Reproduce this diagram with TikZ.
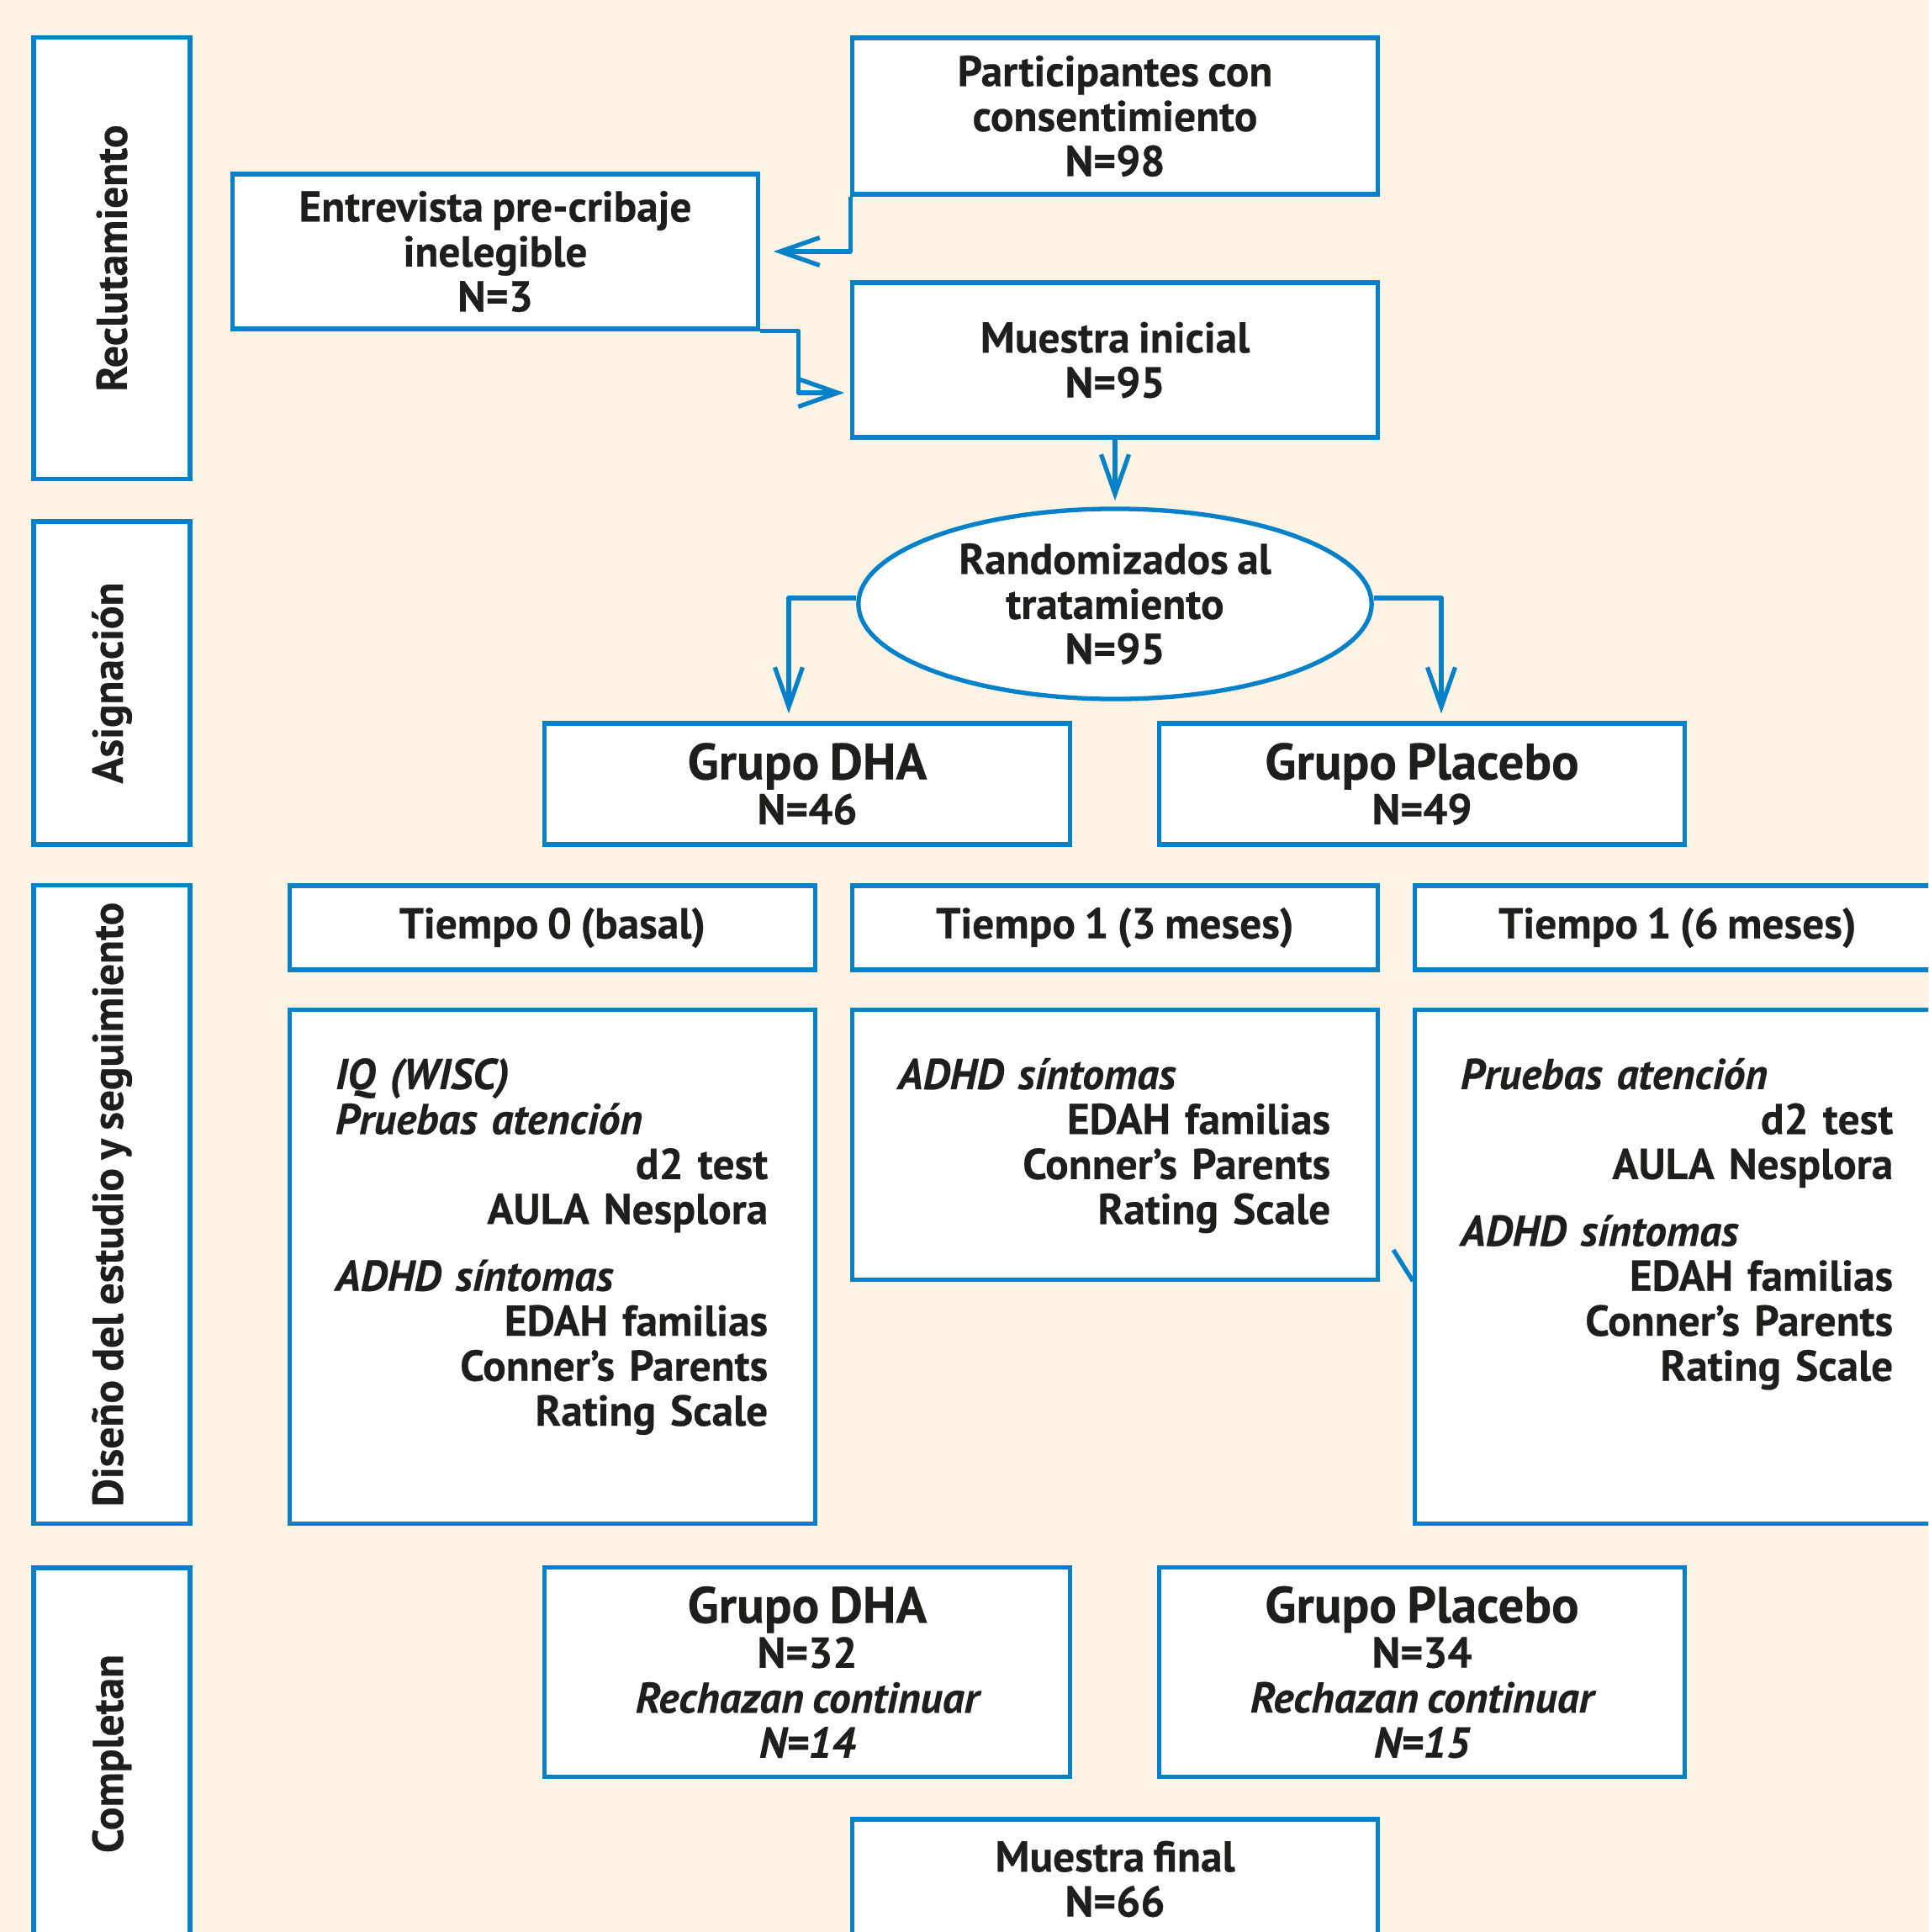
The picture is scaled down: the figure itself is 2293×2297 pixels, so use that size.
\documentclass[tikz,border=0pt]{standalone}
\usepackage{fontspec}
\usepackage{graphicx}
\setmainfont[WordSpace=0.8, FakeBold=0.4]{PT Sans}
\usetikzlibrary{shapes.geometric,arrows.meta}

\definecolor{crema}{HTML}{FDF3E4}
\definecolor{azul}{HTML}{0581C9}
\definecolor{tinta}{HTML}{1E1E1C}

\newcommand{\der}[1]{\mbox{}\hfill #1}
\newcommand{\grande}{\fontsize{17.3}{16}\selectfont}

\tikzset{
	caja/.style={draw=azul, line width=1.5pt, fill=white, inner sep=0pt, align=center, text=tinta,
		font=\bfseries\fontsize{14.6}{15.2}\selectfont, minimum width=6.24cm},
	etapa/.style={caja, minimum width=1.86cm},
	lista/.style={inner sep=0pt, text width=5.14cm, align=left, anchor=north west, text=tinta,
		font=\bfseries\fontsize{14.6}{15.2}\selectfont},
	flecha/.style={draw=azul, line width=1.5pt, line join=round,
		-{Straight Barb[length=4.7mm, width=3.3mm]}},
	linea/.style={draw=azul, line width=1.5pt}
}

\begin{document}
\begin{tikzpicture}[x=0.01cm, y=-0.01cm]
	\clip (0,0) rectangle (2293,2297);
	\fill[crema] (0,0) rectangle (2293,2297);

	% etapas
	\node[etapa, minimum height=5.24cm] (etq-recl) at (133,307) {\rotatebox{90}{Reclutamiento}};
	\node[etapa, minimum height=3.84cm] (etq-asig) at (133,812) {\rotatebox{90}{Asignación}};
	\node[etapa, minimum height=7.59cm] (etq-dise) at (133,1432) {\rotatebox{90}{Diseño del estudio y seguimiento}};
	\node[etapa, minimum height=4.42cm] (etq-comp) at (133,2085) {\rotatebox{90}{Completan}};

	% reclutamiento y asignacion
	\node[caja, minimum height=1.86cm] (part) at (1326,138) {Participantes con\\consentimiento\\N=98};
	\node[caja, minimum height=1.84cm] (entr) at (589,299) {Entrevista pre-cribaje\\inelegible\\N=3};
	\node[caja, minimum height=1.84cm] (muestra-ini) at (1326,428) {Muestra inicial\\N=95};
	\node[caja, ellipse, minimum width=6.10cm, minimum height=2.26cm] (rand) at (1326,718)
		{Randomizados al\\tratamiento\\N=95};
	\node[caja, minimum height=1.44cm] (dha) at (960,932) {{\grande Grupo DHA}\\N=46};
	\node[caja, minimum height=1.44cm] (placebo) at (1691,932) {{\grande Grupo Placebo}\\N=49};

	% seguimiento
	\node[caja, minimum height=1.00cm] (t0) at (657,1103) {Tiempo 0 (basal)};
	\node[caja, minimum height=1.00cm] (t1) at (1326,1103) {Tiempo 1 (3 meses)};
	\node[caja, minimum height=1.00cm] (t6) at (1995,1103) {Tiempo 1 (6 meses)};

	\node[caja, minimum height=6.11cm] (c0) at (657,1506) {};
	\node[caja, minimum height=3.21cm] (c1) at (1326,1361) {};
	\node[caja, minimum height=6.11cm] (c2) at (1995,1506) {};

	\node[lista] (c0-txt) at ([xshift=0.56cm, yshift=-0.59cm]c0.north west) {
		{\itshape\strut IQ (WISC)}\\{\itshape Pruebas atención}\\\der{d2 test}\\\der{AULA Nesplora}\\[7.4pt]
		{\itshape ADHD síntomas}\\\der{EDAH familias}\\\der{Conner’s Parents}\\\der{Rating Scale}};
	\node[lista] (c1-txt) at ([xshift=0.56cm, yshift=-0.59cm]c1.north west) {
		{\itshape\strut ADHD síntomas}\\\der{EDAH familias}\\\der{Conner’s Parents}\\\der{Rating Scale}};
	\node[lista] (c2-txt) at ([xshift=0.56cm, yshift=-0.59cm]c2.north west) {
		{\itshape\strut Pruebas atención}\\\der{d2 test}\\\der{AULA Nesplora}\\[7.4pt]
		{\itshape ADHD síntomas}\\\der{EDAH familias}\\\der{Conner’s Parents}\\\der{Rating Scale}};

	% completan
	\node[caja, minimum height=2.49cm] (dha-fin) at (960,1988)
		{{\grande Grupo DHA}\\N=32\\{\itshape Rechazan continuar}\\{\itshape N=14}};
	\node[caja, minimum height=2.49cm] (placebo-fin) at (1691,1988)
		{{\grande Grupo Placebo}\\N=34\\{\itshape Rechazan continuar}\\{\itshape N=15}};
	\node[caja, minimum height=1.42cm] (muestra-fin) at (1326,2234) {Muestra final\\N=66};

	% flechas
	\draw[flecha, shorten >=0.16cm] (part.south west) |- (entr.east);
	\draw[flecha, shorten >=0.07cm] (entr.south east) -- ++(46,0) |- ([yshift=-0.39cm]muestra-ini.west);
	\draw[flecha, shorten >=0.07cm] (muestra-ini.south) -- (rand.north);
	\draw[flecha, shorten >=0.09cm] ([yshift=0.07cm]rand.west) -| ([xshift=-0.22cm]dha.north);
	\draw[flecha, shorten >=0.09cm] ([yshift=0.07cm]rand.east) -| ([xshift=0.23cm]placebo.north);

	\coordinate (resto) at (1657,1486);
	\draw[linea] (resto) -- ([yshift=-0.17cm]c2.west);
\end{tikzpicture}
\end{document}
